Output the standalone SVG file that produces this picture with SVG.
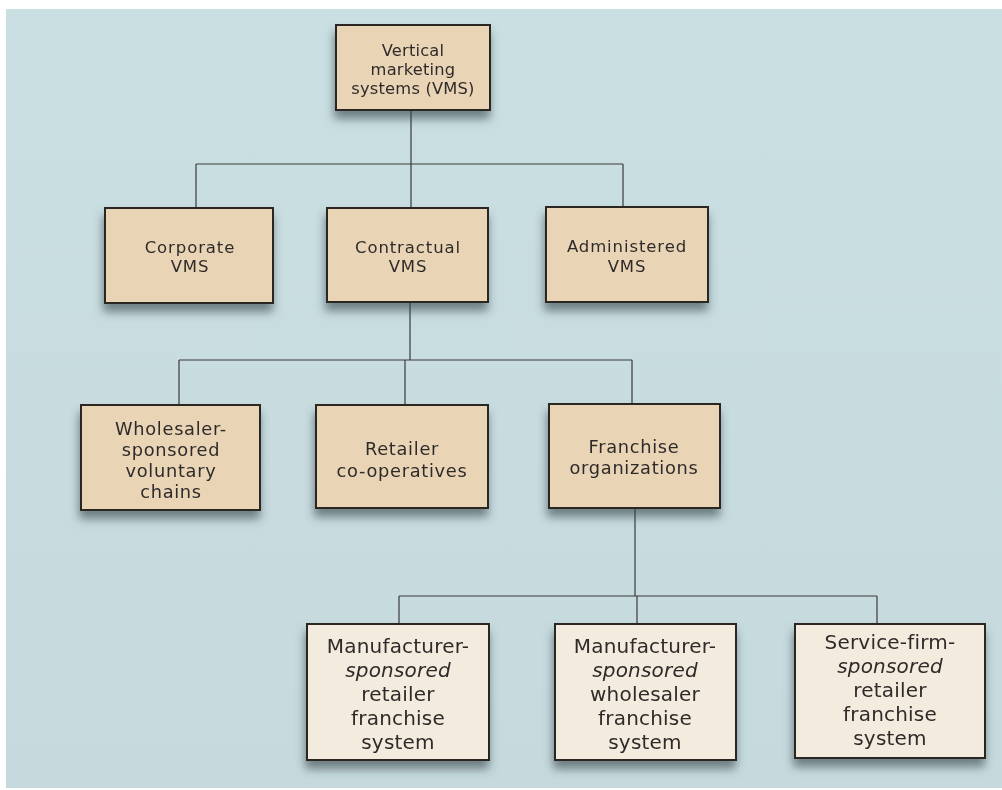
<svg xmlns="http://www.w3.org/2000/svg" width="1002" height="790" viewBox="0 0 1002 790">
<defs>
<filter id="sh" x="-20%" y="-20%" width="140%" height="150%">
<feDropShadow dx="-1" dy="8" stdDeviation="5" flood-color="#344044" flood-opacity="0.6"/>
</filter>
<linearGradient id="bg" x1="0" y1="0" x2="0" y2="1">
<stop offset="0" stop-color="#cadfe2"/>
<stop offset="1" stop-color="#c6dade"/>
</linearGradient>
</defs>
<style>
.box{fill:#e9d4b6;stroke:#2b2622;stroke-width:2}
.box2{fill:#f3ebdd;stroke:#2b2622;stroke-width:2}
.t{font-family:"DejaVu Sans","Open Sans",sans-serif;fill:#2f2c2a;text-anchor:middle}
.s1{font-size:16.3px;letter-spacing:0.2px}
.s2{font-size:16.5px;letter-spacing:0.9px}
.s3{font-size:17.8px;letter-spacing:0.7px}
.s4{font-size:20px;letter-spacing:0.2px}
.it{font-style:italic}
.ln{stroke:#3a3a3a;stroke-width:1.2;fill:none}
</style>
<rect x="0" y="0" width="1002" height="790" fill="#ffffff"/>
<rect x="6" y="9" width="996" height="779" fill="url(#bg)"/>
<g id="connectors">
<path class="ln" d="M411 110 V164 M196 164 H623 M196 164 V208 M411 164 V208 M623 164 V207"/>
<path class="ln" d="M410 302 V360 M179 360 H632 M179 360 V405 M405 360 V405 M632 360 V404"/>
<path class="ln" d="M635 508 V596 M399 596 H877 M399 596 V624 M637 596 V624 M877 596 V624"/>
</g>
<g id="vms" filter="url(#sh)">
<rect class="box" x="336" y="25" width="154" height="85"/>
<text class="t s1" x="413" y="56">Vertical</text>
<text class="t s1" x="413" y="75">marketing</text>
<text class="t s1" x="413" y="94">systems (VMS)</text>
</g>
<g id="corporate" filter="url(#sh)">
<rect class="box" x="105" y="208" width="168" height="95"/>
<text class="t s2" x="190" y="253">Corporate</text>
<text class="t s2" x="190" y="272">VMS</text>
</g>
<g id="contractual" filter="url(#sh)">
<rect class="box" x="327" y="208" width="161" height="94"/>
<text class="t s2" x="408" y="253">Contractual</text>
<text class="t s2" x="408" y="272">VMS</text>
</g>
<g id="administered" filter="url(#sh)">
<rect class="box" x="546" y="207" width="162" height="95"/>
<text class="t s2" x="627" y="252">Administered</text>
<text class="t s2" x="627" y="272">VMS</text>
</g>
<g id="wholesaler" filter="url(#sh)">
<rect class="box" x="81" y="405" width="179" height="105"/>
<text class="t s3" x="171" y="435">Wholesaler-</text>
<text class="t s3" x="171" y="456">sponsored</text>
<text class="t s3" x="171" y="477">voluntary</text>
<text class="t s3" x="171" y="498">chains</text>
</g>
<g id="retailer" filter="url(#sh)">
<rect class="box" x="316" y="405" width="172" height="103"/>
<text class="t s3" x="402" y="455">Retailer</text>
<text class="t s3" x="402" y="477">co-operatives</text>
</g>
<g id="franchise" filter="url(#sh)">
<rect class="box" x="549" y="404" width="171" height="104"/>
<text class="t s3" x="634" y="453">Franchise</text>
<text class="t s3" x="634" y="474">organizations</text>
</g>
<g id="mfr-retailer" filter="url(#sh)">
<rect class="box2" x="307" y="624" width="182" height="136"/>
<text class="t s4" x="398" y="653">Manufacturer-</text>
<text class="t s4 it" x="398" y="677">sponsored</text>
<text class="t s4" x="398" y="701">retailer</text>
<text class="t s4" x="398" y="725">franchise</text>
<text class="t s4" x="398" y="749">system</text>
</g>
<g id="mfr-wholesaler" filter="url(#sh)">
<rect class="box2" x="555" y="624" width="181" height="136"/>
<text class="t s4" x="645" y="653">Manufacturer-</text>
<text class="t s4 it" x="645" y="677">sponsored</text>
<text class="t s4" x="645" y="701">wholesaler</text>
<text class="t s4" x="645" y="725">franchise</text>
<text class="t s4" x="645" y="749">system</text>
</g>
<g id="service-firm" filter="url(#sh)">
<rect class="box2" x="795" y="624" width="190" height="134"/>
<text class="t s4" x="890" y="649">Service-firm-</text>
<text class="t s4 it" x="890" y="673">sponsored</text>
<text class="t s4" x="890" y="697">retailer</text>
<text class="t s4" x="890" y="721">franchise</text>
<text class="t s4" x="890" y="745">system</text>
</g>
</svg>
